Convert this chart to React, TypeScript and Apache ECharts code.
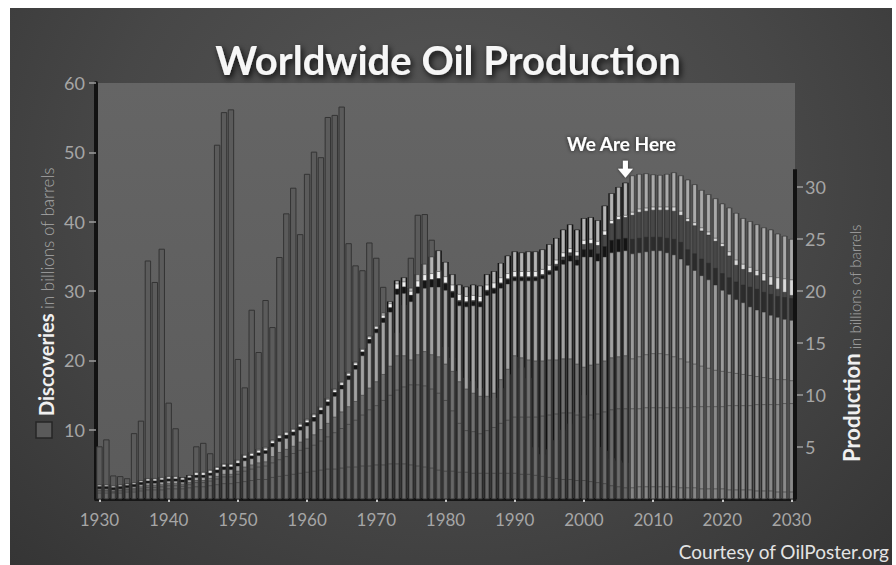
import React, { useEffect, useRef } from "react";
import * as echarts from "echarts";

const FIRST_YEAR = 1930;
const LAST_YEAR = 2030;
const LAST_HISTORIC = 2006;
const YEARS: string[] = [];
for (let y = FIRST_YEAR; y <= LAST_YEAR; y++) YEARS.push(String(y));

const X_LABELS = ["1930", "1940", "1950", "1960", "1970", "1980", "1990", "2000", "2010", "2020", "2030"];
const LEFT_TICKS = [10, 20, 30, 40, 50, 60];
const RIGHT_TICKS = [5, 10, 15, 20, 25, 30];

// Discoveries, billions of barrels, 1930-2006 (left axis)
const DISCOVERIES = [
  7.6, 8.6, 3.4, 3.3, 3.0, 9.5, 11.3, 34.4, 31.3, 36.1,
  13.9, 10.2, 2.5, 2.2, 7.6, 8.1, 6.6, 51.1, 55.8, 56.2,
  20.2, 16.1, 27.3, 21.2, 28.7, 24.8, 34.9, 41.2, 44.9, 38.2,
  46.9, 50.1, 49.3, 55.1, 55.4, 56.6, 36.9, 33.7, 33.0, 37.0,
  34.8, 30.6, 27.0, 24.0, 28.0, 34.8, 41.0, 41.1, 37.4, 33.0,
  22.0, 20.4, 18.5, 17.5, 17.0, 16.0, 14.6, 14.6, 16.0, 18.0,
  20.5, 19.0, 17.5, 7.5, 6.5, 7.2, 8.5, 10.0, 10.9, 12.5,
  15.0, 11.5, 7.5, 7.0, 5.9, 5.6, 5.3,
];

// Production (right axis), cumulative heights of the stacked layers, 1930-2030
const PROD_TOTAL = [
  1.4, 1.4, 1.3, 1.4, 1.5, 1.6, 1.8, 2.0, 2.0, 2.1,
  2.2, 2.2, 2.1, 2.3, 2.6, 2.6, 2.8, 3.1, 3.4, 3.4,
  3.8, 4.3, 4.5, 4.8, 5.0, 5.7, 6.2, 6.5, 6.8, 7.3,
  7.7, 8.2, 8.9, 9.7, 10.6, 11.3, 12.2, 13.2, 14.5, 15.7,
  16.7, 17.9, 19.0, 21.0, 21.3, 20.3, 21.6, 22.6, 23.3, 23.9,
  22.8, 21.6, 20.6, 20.4, 20.6, 20.5, 21.6, 21.9, 22.7, 23.4,
  23.8, 23.7, 23.8, 23.8, 24.0, 24.5, 25.1, 25.9, 26.4, 25.9,
  27.0, 27.1, 26.8, 28.2, 29.4, 30.0, 30.4, 31.1, 31.25, 31.3,
  31.2, 31.15, 31.25, 31.4, 31.1, 30.7, 30.25, 29.7, 29.3, 28.9,
  28.4, 28.0, 27.5, 27.0, 26.7, 26.4, 26.1, 25.9, 25.5, 25.3,
  25.0,
];
const PROD_WHITE_TOP = [
  1.35, 1.35, 1.25, 1.35, 1.45, 1.55, 1.75, 1.95, 1.95, 2.05,
  2.15, 2.15, 2.05, 2.25, 2.55, 2.55, 2.75, 3.05, 3.35, 3.35,
  3.7, 4.2, 4.4, 4.7, 4.9, 5.6, 6.1, 6.4, 6.7, 7.2,
  7.6, 8.1, 8.8, 9.6, 10.5, 11.2, 12.1, 13.1, 14.4, 15.6,
  16.6, 17.7, 18.8, 20.7, 20.9, 20.0, 21.0, 21.6, 21.7, 21.9,
  21.4, 20.6, 19.7, 19.5, 19.6, 19.5, 20.6, 20.8, 21.3, 21.7,
  21.9, 21.9, 21.9, 21.9, 22.1, 22.5, 23.0, 23.7, 24.1, 23.8,
  24.9, 25.0, 24.8, 25.8, 26.8, 27.2, 27.3, 27.6, 27.9, 28.0,
  28.1, 28.1, 28.1, 28.1, 27.7, 27.0, 26.6, 26.1, 25.7, 25.1,
  24.6, 23.8, 23.0, 22.6, 22.3, 22.0, 21.7, 21.4, 21.3, 21.2,
  21.1,
];
const PROD_WHITE_BOTTOM = [
  1.2, 1.2, 1.1, 1.2, 1.3, 1.4, 1.6, 1.75, 1.75, 1.85,
  1.95, 1.95, 1.85, 2.05, 2.3, 2.3, 2.5, 2.8, 3.1, 3.1,
  3.45, 3.95, 4.15, 4.45, 4.65, 5.35, 5.85, 6.15, 6.45, 6.95,
  7.35, 7.85, 8.55, 9.35, 10.25, 10.95, 11.85, 12.85, 14.15, 15.35,
  16.35, 17.4, 18.4, 20.2, 20.4, 19.6, 20.4, 21.0, 21.1, 21.2,
  20.8, 20.0, 19.1, 19.0, 19.1, 19.0, 20.1, 20.3, 20.8, 21.2,
  21.4, 21.4, 21.4, 21.4, 21.6, 22.0, 22.6, 23.3, 23.7, 23.4,
  24.5, 24.6, 24.4, 25.4, 26.5, 26.9, 27.1, 27.3, 27.6, 27.7,
  27.8, 27.8, 27.8, 27.7, 27.3, 26.7, 26.3, 25.8, 25.4, 24.8,
  24.3, 23.4, 22.5, 22.1, 21.8, 21.5, 21.0, 20.6, 20.2, 19.9,
  19.6,
];
const PROD_BAND_TOP = [
  1.2, 1.2, 1.1, 1.2, 1.3, 1.4, 1.6, 1.75, 1.75, 1.85,
  1.95, 1.95, 1.85, 2.05, 2.3, 2.3, 2.5, 2.8, 3.1, 3.1,
  3.45, 3.95, 4.15, 4.45, 4.65, 5.35, 5.85, 6.15, 6.45, 6.95,
  7.35, 7.85, 8.55, 9.35, 10.25, 10.95, 11.85, 12.85, 14.15, 15.35,
  16.35, 17.4, 18.4, 20.2, 20.4, 19.6, 20.4, 21.0, 21.1, 21.2,
  20.7, 19.9, 19.0, 18.9, 19.0, 18.9, 20.0, 20.2, 20.7, 21.1,
  21.3, 21.3, 21.3, 21.3, 21.5, 21.9, 22.4, 23.0, 23.4, 23.0,
  24.0, 24.0, 23.6, 24.3, 24.9, 25.0, 25.1, 25.0, 25.1, 25.2,
  25.2, 25.2, 25.1, 25.0, 24.7, 24.0, 23.6, 23.1, 22.7, 22.2,
  21.7, 21.3, 20.9, 20.6, 20.4, 20.2, 19.9, 19.7, 19.5, 19.4,
  19.3,
];
const PROD_MAIN_TOP = [
  1.0, 1.0, 0.9, 1.0, 1.1, 1.2, 1.4, 1.55, 1.55, 1.65,
  1.75, 1.75, 1.65, 1.85, 2.1, 2.1, 2.3, 2.55, 2.85, 2.85,
  3.2, 3.7, 3.9, 4.2, 4.4, 5.05, 5.55, 5.85, 6.15, 6.65,
  7.05, 7.5, 8.2, 9.0, 9.9, 10.6, 11.5, 12.5, 13.8, 15.0,
  16.0, 17.0, 18.0, 19.7, 19.8, 19.0, 19.8, 20.3, 20.4, 20.4,
  20.1, 19.4, 18.6, 18.5, 18.6, 18.5, 19.6, 19.8, 20.3, 20.7,
  21.0, 21.0, 21.0, 21.0, 21.2, 21.6, 22.0, 22.6, 22.9, 22.5,
  23.3, 23.3, 22.9, 23.3, 23.7, 23.8, 23.9, 23.6, 23.7, 23.8,
  23.9, 23.9, 23.7, 23.5, 23.1, 22.5, 22.0, 21.5, 21.1, 20.6,
  20.1, 19.7, 19.2, 18.9, 18.5, 18.2, 18.0, 17.7, 17.5, 17.3,
  17.2,
];
const PROD_LOWER_C = [
  0.9, 0.9, 0.8, 0.9, 1.0, 1.05, 1.2, 1.35, 1.35, 1.4,
  1.5, 1.5, 1.45, 1.6, 1.8, 1.8, 2.0, 2.2, 2.4, 2.4,
  2.7, 3.1, 3.3, 3.5, 3.6, 4.1, 4.5, 4.8, 5.1, 5.5,
  5.8, 6.2, 6.7, 7.3, 7.9, 8.4, 8.9, 9.4, 10.0, 10.7,
  11.3, 12.0, 12.8, 13.8, 13.8, 13.4, 13.9, 14.2, 13.9, 13.7,
  13.0, 12.3, 11.3, 10.6, 10.2, 9.9, 9.9, 10.2, 11.5, 12.5,
  13.8, 13.6, 13.4, 13.3, 13.3, 13.4, 13.4, 13.5, 13.5, 13.0,
  12.7, 12.9, 13.0, 13.3, 13.6, 13.7, 13.8, 13.5, 13.7, 13.9,
  14.0, 14.0, 13.9, 13.7, 13.5, 13.2, 13.0, 12.8, 12.6, 12.4,
  12.3, 12.2, 12.1, 12.0, 11.9, 11.8, 11.7, 11.6, 11.5, 11.5,
  11.4,
];
const PROD_LOWER_A = [
  0.8, 0.8, 0.7, 0.8, 0.9, 0.9, 1.0, 1.15, 1.15, 1.2,
  1.3, 1.3, 1.25, 1.4, 1.6, 1.6, 1.75, 1.95, 2.15, 2.15,
  2.4, 2.7, 2.9, 3.1, 3.2, 3.5, 3.8, 4.1, 4.4, 4.7,
  4.9, 5.2, 5.6, 6.0, 6.4, 6.8, 7.2, 7.6, 8.1, 8.6,
  9.0, 9.5, 10.0, 10.5, 10.8, 11.0, 11.0, 10.9, 10.6, 10.2,
  9.5, 8.5, 7.3, 6.6, 6.5, 6.3, 6.6, 6.9, 7.3, 7.6,
  7.9, 7.9, 7.9, 7.9, 8.0, 8.1, 8.2, 8.3, 8.3, 8.1,
  7.9, 8.1, 8.2, 8.4, 8.6, 8.7, 8.7, 8.7, 8.7, 8.8,
  8.8, 8.8, 8.8, 8.8, 8.8, 8.8, 8.9, 8.9, 8.9, 8.9,
  8.9, 9.0, 9.0, 9.0, 9.0, 9.1, 9.1, 9.1, 9.1, 9.2,
  9.2,
];
const PROD_BASE = [
  0.6, 0.6, 0.6, 0.6, 0.7, 0.7, 0.8, 0.9, 0.9, 0.9,
  1.0, 1.0, 1.0, 1.1, 1.2, 1.2, 1.3, 1.4, 1.5, 1.5,
  1.6, 1.7, 1.8, 1.9, 1.9, 2.1, 2.2, 2.3, 2.4, 2.5,
  2.6, 2.7, 2.8, 2.9, 2.9, 3.0, 3.1, 3.1, 3.2, 3.2,
  3.3, 3.3, 3.4, 3.4, 3.4, 3.3, 3.2, 3.1, 3.0, 2.8,
  2.7, 2.7, 2.6, 2.6, 2.5, 2.5, 2.5, 2.5, 2.5, 2.5,
  2.5, 2.4, 2.4, 2.3, 2.2, 2.1, 2.0, 1.9, 1.9, 1.8,
  1.8, 1.7, 1.6, 1.5, 1.3, 1.2, 1.1, 1.1, 1.2, 1.2,
  1.2, 1.2, 1.2, 1.2, 1.1, 1.1, 1.1, 1.0, 1.0, 1.0,
  1.0, 0.9, 0.9, 0.9, 0.9, 0.8, 0.8, 0.8, 0.7, 0.7,
  0.7,
];

const FONT = "Lato, 'Open Sans', sans-serif";
const GRID = { left: 96, right: 101, top: 83, bottom: 66 };

export default function App() {
  const ref = useRef<HTMLDivElement>(null);

  useEffect(() => {
    const el = ref.current;
    if (!el) return;
    const chart = echarts.init(el, null, { renderer: "svg" });
    const histIdx = LAST_HISTORIC - FIRST_YEAR;
    const colored = (arr: number[], hist: string, fut: string) =>
      arr.map((v, i) => ({ value: v, itemStyle: { color: i <= histIdx ? hist : fut } }));

    const layers: [number[], string, string][] = [
      [PROD_TOTAL, "#b4b4b4", "#aaaaaa"],
      [PROD_WHITE_TOP, "#f2f2f2", "#dadada"],
      [PROD_WHITE_BOTTOM, "#484848", "#474747"],
      [PROD_BAND_TOP, "#141414", "#2c2c2c"],
      [PROD_MAIN_TOP, "#a2a2a2", "#9b9b9b"],
      [PROD_LOWER_C, "#707070", "#8e8e8e"],
      [PROD_LOWER_A, "#6b6b6b", "#8a8a8a"],
      [PROD_BASE, "#676767", "#868686"],
    ];

    const prodSeries = layers.map(([arr, h, f], k) => ({
      type: "bar",
      xAxisIndex: 1,
      yAxisIndex: 1,
      barWidth: 4.2,
      barGap: "-100%",
      z: 3 + k,
      silent: true,
      data: colored(arr, h, f),
      itemStyle: { borderColor: "#2a2a2a", borderWidth: 0.5 },
    }));

    const labelStyle = { color: "#a6a6a6", fontSize: 18, fontFamily: FONT };

    chart.setOption({
      animation: false,
      backgroundColor: "transparent",
      title: {
        text: "Worldwide Oil Production",
        left: "center",
        top: 35,
        textStyle: {
          color: "#f6f6f6",
          fontSize: 40,
          fontWeight: "bold",
          fontFamily: FONT,
          textShadowColor: "rgba(0,0,0,0.85)",
          textShadowBlur: 6,
          textShadowOffsetX: 2,
          textShadowOffsetY: 3,
        },
      },
      grid: {
        ...GRID,
        show: true,
        borderWidth: 0,
        backgroundColor: new echarts.graphic.LinearGradient(0, 0, 0, 1, [
          { offset: 0, color: "#656565" },
          { offset: 1, color: "#5b5b5b" },
        ]),
      },
      xAxis: [
        {
          type: "category",
          data: YEARS,
          boundaryGap: true,
          axisLine: { lineStyle: { color: "#161616", width: 3 } },
          axisTick: {
            show: true,
            alignWithLabel: true,
            interval: (_i: number, v: string) => X_LABELS.includes(v),
            length: 3,
            lineStyle: { color: "#c4c4c4", width: 2 },
          },
          axisLabel: {
            ...labelStyle,
            fontSize: 17,
            margin: 12,
            interval: (_i: number, v: string) => X_LABELS.includes(v),
          },
        },
        { type: "category", data: YEARS, boundaryGap: true, show: false },
      ],
      yAxis: [
        {
          type: "value",
          min: 0,
          max: 60,
          interval: 10,
          position: "left",
          splitLine: { show: false },
          axisLine: { show: true, lineStyle: { color: "#121212", width: 4 } },
          axisTick: { show: true, length: 7, customValues: LEFT_TICKS, lineStyle: { color: "#9c9c9c", width: 1.5 } },
          axisLabel: {
            ...labelStyle,
            margin: 11,
            customValues: LEFT_TICKS,
            formatter: (v: number) => (LEFT_TICKS.includes(v) ? String(v) : ""),
          },
        },
        {
          type: "value",
          min: 0,
          max: 40,
          interval: 5,
          position: "right",
          splitLine: { show: false },
          axisLine: { show: false },
          axisTick: { show: true, length: 8, customValues: RIGHT_TICKS, lineStyle: { color: "#9c9c9c", width: 1.5 } },
          axisLabel: {
            ...labelStyle,
            margin: 10,
            customValues: RIGHT_TICKS,
            formatter: (v: number) => (RIGHT_TICKS.includes(v) ? String(v) : ""),
          },
        },
      ],
      series: [
        {
          type: "bar",
          name: "shadow",
          xAxisIndex: 0,
          yAxisIndex: 1,
          barWidth: 6.4,
          barGap: "-100%",
          z: 1,
          silent: true,
          data: colored(PROD_TOTAL, "#101010", "#474747"),
        },
        {
          type: "bar",
          name: "Discoveries",
          xAxisIndex: 0,
          yAxisIndex: 0,
          barWidth: 6.4,
          barGap: "-100%",
          z: 2,
          silent: true,
          data: YEARS.map((_, i) => (i < DISCOVERIES.length ? DISCOVERIES[i] : "-")),
          itemStyle: { color: "#5b5b5b", borderColor: "#343434", borderWidth: 1 },
        },
        ...prodSeries,
      ],
    });

    const px = (yr: string, v: number) => chart.convertToPixel({ seriesIndex: 0 }, [yr, v]) as number[];
    const axisTop = px(YEARS[YEARS.length - 1], 31.7)[1];
    const axisBottom = px(YEARS[YEARS.length - 1], 0)[1];
    const rightX = 896 - GRID.right;
    const hereIdx = LAST_HISTORIC - FIRST_YEAR;
    const here = px(String(LAST_HISTORIC), PROD_TOTAL[hereIdx] + 0.5);
    const ax = here[0];
    const ay = here[1];

    chart.setOption({
      graphic: [
        {
          type: "rect",
          z: 20,
          shape: { x: rightX - 2, y: axisTop, width: 4, height: axisBottom - axisTop },
          style: { fill: "#121212" },
        },
        {
          type: "polygon",
          z: 20,
          shape: {
            points: [
              [ax - 2.5, ay - 17],
              [ax + 2.5, ay - 17],
              [ax + 2.5, ay - 9],
              [ax + 7.5, ay - 9],
              [ax, ay],
              [ax - 7.5, ay - 9],
              [ax - 2.5, ay - 9],
            ],
          },
          style: { fill: "#ffffff", shadowColor: "rgba(0,0,0,0.6)", shadowBlur: 3 },
        },
        {
          type: "text",
          z: 20,
          x: ax - 4,
          y: ay - 34,
          style: {
            text: "We Are Here",
            fill: "#ffffff",
            font: `bold 19px ${FONT}`,
            align: "center",
            verticalAlign: "middle",
            textShadowColor: "rgba(0,0,0,0.7)",
            textShadowBlur: 4,
          },
        },
        {
          type: "group",
          x: 44,
          y: 438,
          rotation: Math.PI / 2,
          z: 20,
          children: [
            {
              type: "rect",
              shape: { x: 0, y: -8, width: 16, height: 16 },
              style: { fill: "#5a5a5a", stroke: "#262626", lineWidth: 1.5 },
            },
            {
              type: "text",
              x: 22,
              y: 2,
              style: {
                text: "{a|Discoveries}{b| in billions of barrels}",
                align: "left",
                verticalAlign: "middle",
                rich: {
                  a: { fontSize: 20, fontWeight: "bold", fontFamily: FONT, fill: "#f0f0f0", color: "#f0f0f0", lineHeight: 20, verticalAlign: "bottom" },
                  b: { fontSize: 17, fontWeight: 300, fontFamily: FONT, fill: "#a8a8a8", color: "#a8a8a8", lineHeight: 20, verticalAlign: "bottom" },
                },
              },
            },
          ],
        },
        {
          type: "group",
          x: 851,
          y: 462,
          rotation: Math.PI / 2,
          z: 20,
          children: [
            {
              type: "text",
              x: 0,
              y: 0,
              style: {
                text: "{a|Production}{b| in billions of barrels}",
                align: "left",
                verticalAlign: "middle",
                rich: {
                  a: { fontSize: 22, fontWeight: "bold", fontFamily: FONT, fill: "#f0f0f0", color: "#f0f0f0", lineHeight: 22, verticalAlign: "bottom" },
                  b: { fontSize: 15, fontWeight: 300, fontFamily: FONT, fill: "#a8a8a8", color: "#a8a8a8", lineHeight: 22, verticalAlign: "bottom" },
                },
              },
            },
          ],
        },
        {
          type: "text",
          z: 20,
          x: 889,
          y: 551,
          style: {
            text: "Courtesy of OilPoster.org",
            fill: "#e4e4e4",
            font: `19px ${FONT}`,
            align: "right",
            verticalAlign: "middle",
          },
        },
      ],
    });

    return () => {
      chart.dispose();
    };
  }, []);

  return (
    <div style={{ position: "fixed", left: 0, top: 0, width: 896, height: 565, background: "#ffffff" }}>
      <div
        style={{
          position: "absolute",
          left: 10,
          top: 8,
          width: 882,
          height: 557,
          background: "radial-gradient(ellipse at 50% 30%, #575757 0%, #474747 55%, #353535 100%)",
        }}
      />
      <div ref={ref} style={{ position: "absolute", left: 0, top: 0, width: 896, height: 565 }} />
    </div>
  );
}
